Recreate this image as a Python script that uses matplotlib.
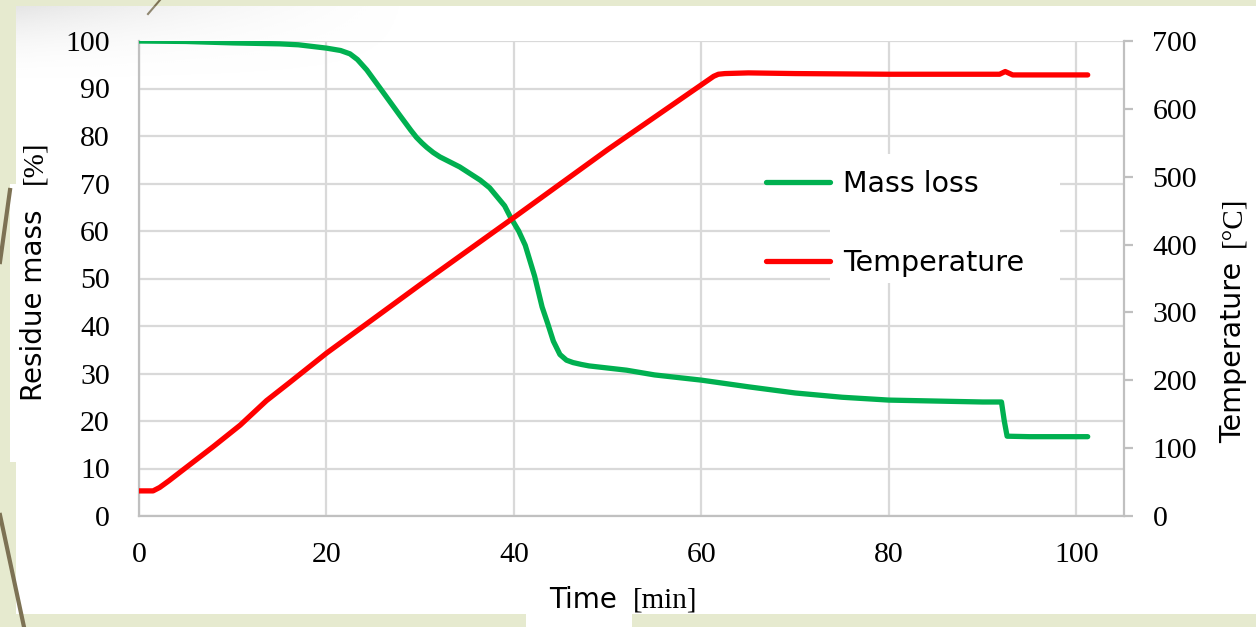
import matplotlib
matplotlib.use("Agg")
import matplotlib.pyplot as plt
from matplotlib.patches import Rectangle
from matplotlib.lines import Line2D
import numpy as np

# ---------------- data ----------------
time_mass = [0, 5, 10, 15, 17, 20, 21.5, 22.5, 23.3, 24.3, 26, 27.8, 29.0, 29.6, 30.2, 30.7,
             31.4, 32.1, 34.2, 36.4, 37.4, 38.2, 39.0, 39.6, 40.5, 41.2, 42.2, 43.0, 43.6,
             44.2, 44.9, 45.6, 46.3, 47.2, 48, 52, 55, 60, 65, 70, 75, 80, 85, 90, 92.0,
             92.3, 92.6, 95, 101.2]
mass = [100, 99.9, 99.6, 99.4, 99.2, 98.5, 98.0, 97.3, 96.1, 93.9, 89.3, 84.4, 81.2, 79.7,
        78.5, 77.6, 76.5, 75.6, 73.5, 70.7, 69.1, 67.2, 65.3, 63.0, 60.0, 57.0, 50.5, 44.0,
        40.5, 36.8, 34.0, 32.8, 32.3, 31.9, 31.6, 30.7, 29.7, 28.6, 27.2, 25.9, 25.0, 24.4,
        24.2, 24.0, 24.0, 20.0, 16.8, 16.7, 16.7]

time_temp = [0, 1.5, 2.2, 3.2, 4.7, 6.3, 7.9, 10.8, 12.2, 13.6, 16, 20, 30, 40, 50, 61.3,
             61.8, 62.5, 65, 70, 80, 91.8, 92.4, 93.2, 101.2]
temp = [37, 37, 42, 52, 68, 85, 102, 134, 152, 170, 196, 240, 341, 440, 540, 648,
        651, 652, 653, 652, 651, 651, 655, 650, 650]

x_ticks = [0, 20, 40, 60, 80, 100]
left_ticks = list(range(0, 101, 10))
right_ticks = list(range(0, 701, 100))

series_labels = ["Mass loss", "Temperature"]
green = "#00b050"
red = "#ff0000"

SERIF = "Liberation Serif"
SANS = "DejaVu Sans"

W, H = 1256, 627
fig = plt.figure(figsize=(W / 100, H / 100), dpi=100, facecolor="#e6eacf")

def px(x0, y0, w, h):
    return (x0 / W, 1 - (y0 + h) / H, w / W, h / H)

# white panel and decoration
fig.patches.append(Rectangle((16 / W, 13 / H), (W - 16) / W, (621 - 13) / H,
                             transform=fig.transFigure, facecolor="white", edgecolor="none", zorder=0))
fig.patches.append(Rectangle((10 / W, 165 / H), 8 / W, (443 - 165) / H,
                             transform=fig.transFigure, facecolor="white", edgecolor="none", zorder=0))
fig.patches.append(Rectangle((526 / W, 0), (632 - 526) / W, 14 / H,
                             transform=fig.transFigure, facecolor="white", edgecolor="none", zorder=0))
brown = "#7d7254"
fig.lines.append(Line2D([0 / W, 10 / W], [1 - 262 / H, 1 - 190 / H], transform=fig.transFigure,
                        color=brown, lw=3, zorder=0.5))
fig.lines.append(Line2D([0 / W, 24 / W], [1 - 515 / H, 0], transform=fig.transFigure,
                        color=brown, lw=3, zorder=0.5))
fig.lines.append(Line2D([148 / W, 160 / W], [1 - 14 / H, 1.0], transform=fig.transFigure,
                        color=brown, lw=1.5, zorder=0.5))

# soft gray shading at top-left of the panel
gax = fig.add_axes(px(16, 6, 400, 80), zorder=0.6)
gx = np.linspace(0, 1, 200)
gy = np.linspace(0, 1, 60)
GX, GY = np.meshgrid(gx, gy)
alpha = np.clip(1 - GX, 0, 1) ** 1.5 * np.clip(1 - GY, 0, 1) ** 2 * 0.5
img = np.zeros((60, 200, 4))
img[..., :3] = 0.80
img[..., 3] = alpha
gax.imshow(img, aspect="auto", extent=(0, 1, 0, 1), origin="upper")
gax.axis("off")

# ---------------- main axes ----------------
ax = fig.add_axes(px(139, 41, 985, 475), zorder=1)
ax.set_facecolor("none")
ax.set_xlim(0, 105.07)
ax.set_ylim(0, 100)
ax.set_xticks(x_ticks)
ax.set_yticks(left_ticks)
ax.grid(True, color="#d9d9d9", lw=1.6, zorder=0)
ax.set_axisbelow(True)
for s in ["top", "right"]:
    ax.spines[s].set_visible(False)
for s in ["left", "bottom"]:
    ax.spines[s].set_color("#c0c0c0")
    ax.spines[s].set_linewidth(1.6)
ax.tick_params(axis="y", length=0, pad=21, labelsize=21.5)
ax.tick_params(axis="x", length=0, pad=19, labelsize=21.5)

ax2 = ax.twinx()
ax2.set_ylim(0, 700)
ax2.set_yticks(right_ticks)
for s in ["top", "left", "bottom"]:
    ax2.spines[s].set_visible(False)
ax2.spines["right"].set_color("#c0c0c0")
ax2.spines["right"].set_linewidth(1.6)
ax2.tick_params(axis="y", length=6.5, width=1.6, color="#c0c0c0", pad=14, labelsize=21.5)

for lab in ax.get_xticklabels() + ax.get_yticklabels() + ax2.get_yticklabels():
    lab.set_fontfamily(SERIF)

l1, = ax.plot(time_mass, mass, color=green, lw=3.8, solid_capstyle="round",
              solid_joinstyle="round", zorder=3, label=series_labels[0])
l2, = ax2.plot(time_temp, temp, color=red, lw=3.8, solid_capstyle="round",
               solid_joinstyle="round", zorder=3, label=series_labels[1])

# white block behind legend text
ax.add_patch(Rectangle(((830 - 139) / 985, (516 - 283) / 475), 230 / 985, 129 / 475,
                       transform=ax.transAxes, facecolor="white", edgecolor="none", zorder=1))

leg = ax2.legend(handles=[l1, l2], loc="upper left", frameon=False,
                 bbox_to_anchor=(766 / W, 1 - 170 / H), bbox_transform=fig.transFigure,
                 prop={"family": SANS, "size": 20.5}, handlelength=2.25, handletextpad=0.45,
                 labelspacing=1.8, borderpad=0, borderaxespad=0)

# axis labels (sans word + serif unit)
fig.text(34 / W, 1 - 305 / H, "Residue mass", rotation=90, ha="center", va="center",
         fontsize=20, family=SANS)
fig.text(34 / W, 1 - 162 / H, "[%]", rotation=90, ha="center", va="center",
         fontsize=21, family=SERIF)
fig.text(1233 / W, 1 - 352 / H, "Temperature", rotation=90, ha="center", va="center",
         fontsize=20.5, family=SANS)
fig.text(1233 / W, 1 - 222 / H, "[°C]", rotation=90, ha="center", va="center",
         fontsize=21, family=SERIF)
fig.text(583 / W, 1 - 600 / H, "Time", ha="center", va="center", fontsize=20, family=SANS)
fig.text(665 / W, 1 - 600 / H, "[min]", ha="center", va="center", fontsize=21, family=SERIF)

fig.savefig("out.png", dpi=100, facecolor=fig.get_facecolor())
